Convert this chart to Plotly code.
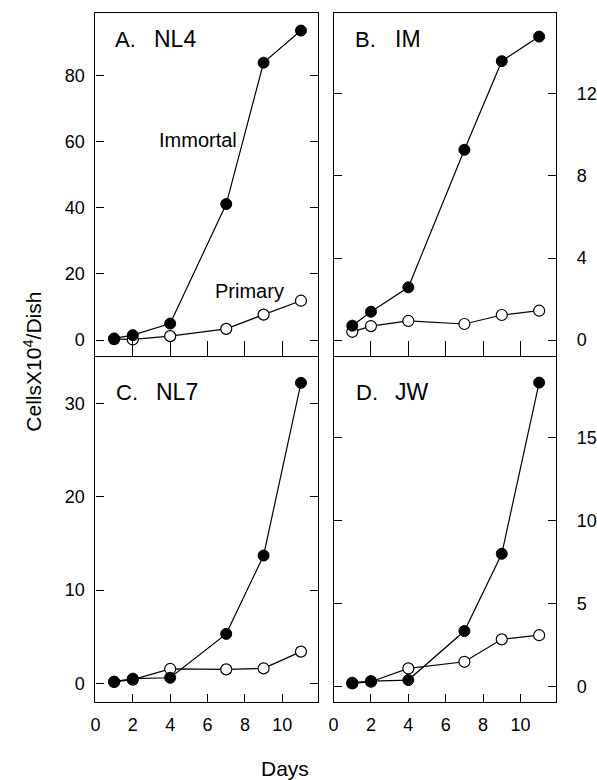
import plotly.graph_objects as go

days = [1, 2, 4, 7, 9, 11]

immortal_A = [0.5, 1.5, 5.0, 41.1, 83.8, 93.5]
primary_A = [0.3, 0.2, 1.2, 3.4, 7.7, 11.9]

immortal_B = [0.70, 1.38, 2.57, 9.28, 13.6, 14.8]
primary_B = [0.40, 0.68, 0.93, 0.78, 1.22, 1.43]

immortal_C = [0.18, 0.5, 0.6, 5.3, 13.7, 32.2]
primary_C = [0.15, 0.4, 1.54, 1.5, 1.6, 3.4]

immortal_D = [0.24, 0.34, 0.4, 3.35, 8.0, 18.3]
primary_D = [0.2, 0.3, 1.1, 1.5, 2.85, 3.1]

panel_letters = ["A.", "B.", "C.", "D."]
panel_names = ["NL4", "IM", "NL7", "JW"]
x_ticks = [0, 2, 4, 6, 8, 10]
y_ticks_A = [0, 20, 40, 60, 80]
y_ticks_B = [0, 4, 8, 12]
y_ticks_C = [0, 10, 20, 30]
y_ticks_D = [0, 5, 10, 15]

W, H = 597, 780
FONT = "Liberation Sans, Arial, Helvetica, sans-serif"

def px_x(a, b):
    return [a / W, b / W]

def px_y(top, bottom):
    return [1 - bottom / H, 1 - top / H]

panels = [
    dict(imm=immortal_A, pri=primary_A, xd=px_x(91.5, 316.5), yd=px_y(13, 356),
         yr=[-4.8, 98.8], yt=y_ticks_A, side="left", bottom=False),
    dict(imm=immortal_B, pri=primary_B, xd=px_x(332.5, 557.5), yd=px_y(13, 356),
         yr=[-0.78, 15.95], yt=y_ticks_B, side="right", bottom=False),
    dict(imm=immortal_C, pri=primary_C, xd=px_x(91.5, 316.5), yd=px_y(357, 702),
         yr=[-2.0, 34.97], yt=y_ticks_C, side="left", bottom=True),
    dict(imm=immortal_D, pri=primary_D, xd=px_x(332.5, 557.5), yd=px_y(357, 702),
         yr=[-0.92, 19.84], yt=y_ticks_D, side="right", bottom=True),
]

fig = go.Figure()
layout = dict(
    width=W, height=H, margin=dict(l=0, r=0, t=0, b=0),
    paper_bgcolor="white", plot_bgcolor="white", showlegend=False,
    font=dict(family=FONT, color="black", size=18),
)

for i, p in enumerate(panels, start=1):
    xa = "x" if i == 1 else f"x{i}"
    ya = "y" if i == 1 else f"y{i}"
    fig.add_trace(go.Scatter(
        x=days, y=p["pri"], xaxis=xa, yaxis=ya, mode="lines+markers",
        line=dict(color="black", width=1.2),
        marker=dict(symbol="circle", size=11, color="white", line=dict(color="black", width=1.2)),
        cliponaxis=False,
    ))
    fig.add_trace(go.Scatter(
        x=days, y=p["imm"], xaxis=xa, yaxis=ya, mode="lines+markers",
        line=dict(color="black", width=1.2),
        marker=dict(symbol="circle", size=11, color="black", line=dict(color="black", width=1)),
        cliponaxis=False,
    ))
    xkey = "xaxis" if i == 1 else f"xaxis{i}"
    ykey = "yaxis" if i == 1 else f"yaxis{i}"
    layout[xkey] = dict(
        domain=p["xd"], range=[0, 11.9], anchor=ya,
        tickvals=x_ticks, ticktext=[str(v) for v in x_ticks],
        showticklabels=p["bottom"], ticks="inside",
        ticklen=8 if p["bottom"] else 15, tickwidth=1.2, tickcolor="black",
        showline=True, linecolor="black", linewidth=1.3,
        mirror=(not p["bottom"]),
        showgrid=False, zeroline=False, ticklabelstandoff=6,
        tickfont=dict(size=18, family=FONT, color="black"),
    )
    layout[ykey] = dict(
        domain=p["yd"], range=p["yr"], anchor=xa, side=p["side"],
        tickvals=p["yt"], ticks="inside", ticklen=8, tickwidth=1.2, tickcolor="black",
        showline=True, linecolor="black", linewidth=1.3, mirror="ticks",
        showgrid=False, zeroline=False,
        ticklabelstandoff=6 if p["side"] == "left" else 16,
        tickfont=dict(size=18, family=FONT, color="black"),
    )

fig.update_layout(**layout)

letter_pos = [(109, 39), (352, 39), (110.5, 392), (353, 392)]
name_x = [149, 392.5, 150.5, 392.5]
for (lx, ly), nx, letter, name in zip(letter_pos, name_x, panel_letters, panel_names):
    fig.add_annotation(x=lx / W, y=1 - ly / H, xref="paper", yref="paper",
                       text=letter, showarrow=False, xanchor="left", yanchor="middle",
                       font=dict(size=22, family=FONT, color="black"))
    fig.add_annotation(x=nx / W, y=1 - ly / H, xref="paper", yref="paper",
                       text=name, showarrow=False, xanchor="left", yanchor="middle",
                       font=dict(size=23, family=FONT, color="black"))

fig.add_annotation(x=154 / W, y=1 - 140 / H, xref="paper", yref="paper",
                   text="Immortal", showarrow=False, xanchor="left", yanchor="middle",
                   font=dict(size=20, family=FONT, color="black"))
fig.add_annotation(x=210.5 / W, y=1 - 291 / H, xref="paper", yref="paper",
                   text="Primary", showarrow=False, xanchor="left", yanchor="middle",
                   font=dict(size=20, family=FONT, color="black"))

fig.add_annotation(x=283 / W, y=1 - 768 / H, xref="paper", yref="paper",
                   text="Days", showarrow=False, xanchor="center", yanchor="middle",
                   font=dict(size=21, family=FONT, color="black"))
fig.add_annotation(x=28 / W, y=1 - 362 / H, xref="paper", yref="paper",
                   text="CellsX10<sup>4</sup>/Dish", showarrow=False, textangle=-90,
                   xanchor="center", yanchor="middle",
                   font=dict(size=21, family=FONT, color="black"))

fig.write_html(
    "out.html",
    config={"displayModeBar": False},
    post_script="document.body.style.margin='0';document.body.style.overflow='hidden';",
)
